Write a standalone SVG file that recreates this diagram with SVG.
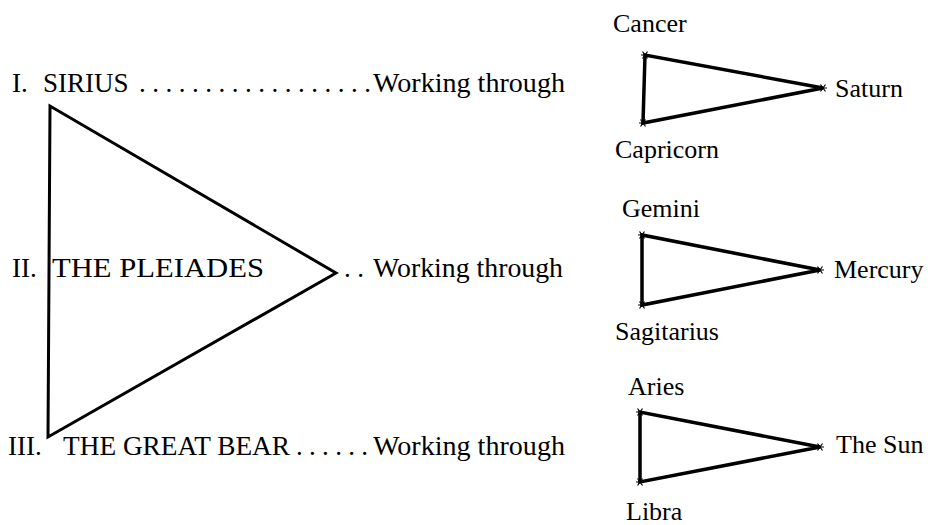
<svg xmlns="http://www.w3.org/2000/svg" xmlns:xlink="http://www.w3.org/1999/xlink" width="933" height="525" viewBox="0 0 933 525">
<style>
.m{font-size:27px;}
.s{font-size:26px;}
.tri{fill:none;stroke:#000;stroke-width:3;stroke-linejoin:miter;}
.tri2{fill:none;stroke:#000;stroke-width:3.5;stroke-linejoin:miter;}
.star{stroke:#000;stroke-width:1.2;fill:none;}
</style>
<defs>
<g id="ast"><path class="star" d="M-4,0H4M-2.5,-3.5L2.5,3.5M-2.5,3.5L2.5,-3.5"/></g>
</defs>
<rect width="933" height="525" fill="#fff"/>
<g id="connectors">
<polygon class="tri" points="50,106 48,437 336,273"/>
<polygon class="tri2" points="645,55 643,123 823,88"/>
<polygon class="tri2" points="642,235 642,305 820,270"/>
<polygon class="tri2" points="640,412 640,482 820,447"/>
<use xlink:href="#ast" x="645" y="55"/><use xlink:href="#ast" x="643" y="123"/><use xlink:href="#ast" x="823" y="88"/>
<use xlink:href="#ast" x="642" y="235"/><use xlink:href="#ast" x="642" y="305"/><use xlink:href="#ast" x="820" y="270"/>
<use xlink:href="#ast" x="640" y="412"/><use xlink:href="#ast" x="640" y="482"/><use xlink:href="#ast" x="820" y="447"/>
</g>
<g font-family="Liberation Serif, DejaVu Serif, serif" fill="#000">
<g id="sirius">
<text class="m" x="12" y="92">I.</text>
<text class="m" x="43" y="92">SIRIUS</text>
<text class="m" x="139" y="92" textLength="232" lengthAdjust="spacing">. . . . . . . . . . . . . . . . . .</text>
<text class="m" x="373" y="92" textLength="192" lengthAdjust="spacingAndGlyphs">Working through</text>
</g>
<g id="pleiades">
<text class="m" x="12" y="277">II.</text>
<text class="m" x="52" y="277" textLength="212" lengthAdjust="spacingAndGlyphs">THE PLEIADES</text>
<text class="m" x="344" y="277" textLength="20" lengthAdjust="spacing">. .</text>
<text class="m" x="373" y="277" textLength="190" lengthAdjust="spacingAndGlyphs">Working through</text>
</g>
<g id="greatbear">
<text class="m" x="8" y="455">III.</text>
<text class="m" x="63" y="455" textLength="227" lengthAdjust="spacingAndGlyphs">THE GREAT BEAR</text>
<text class="m" x="296" y="455" textLength="72" lengthAdjust="spacing">. . . . . .</text>
<text class="m" x="373" y="455" textLength="192" lengthAdjust="spacingAndGlyphs">Working through</text>
</g>
<g id="saturn-group">
<text class="s" x="613" y="32">Cancer</text>
<text class="s" x="835" y="97">Saturn</text>
<text class="s" x="615" y="158">Capricorn</text>
</g>
<g id="mercury-group">
<text class="s" x="622" y="217">Gemini</text>
<text class="s" x="834" y="278">Mercury</text>
<text class="s" x="615" y="340">Sagitarius</text>
</g>
<g id="sun-group">
<text class="s" x="628" y="395">Aries</text>
<text class="s" x="836" y="453">The Sun</text>
<text class="s" x="626" y="520">Libra</text>
</g>
</g>
</svg>
